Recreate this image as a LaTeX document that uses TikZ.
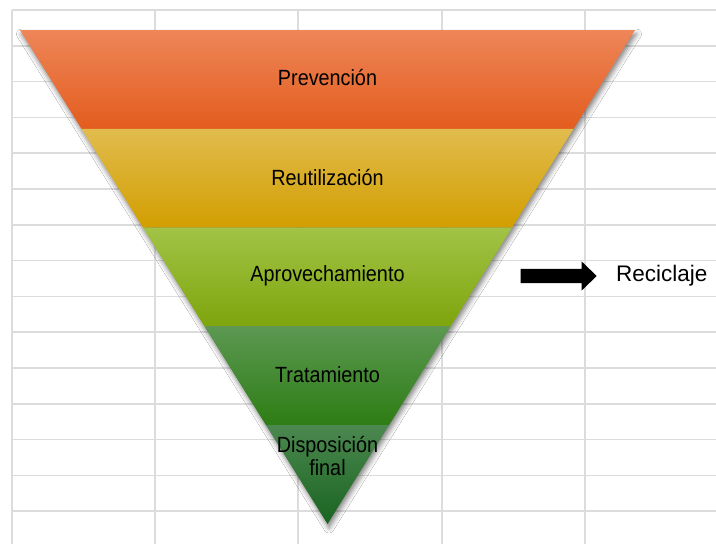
\documentclass[tikz,border=0pt]{standalone}
\usepackage{fontspec}
\setmainfont{Liberation Sans}
\newfontfamily\bandfont{Liberation Sans}[FakeStretch=0.9]
\usetikzlibrary{positioning,shapes.arrows,shadows.blur}

\definecolor{gridgray}{RGB}{220,220,220}
\definecolor{prevtop}{RGB}{238,134,88}
\definecolor{prevbot}{RGB}{227,92,30}
\definecolor{reuttop}{RGB}{225,188,78}
\definecolor{reutbot}{RGB}{210,158,0}
\definecolor{aprotop}{RGB}{162,195,70}
\definecolor{aprobot}{RGB}{125,165,12}
\definecolor{trattop}{RGB}{92,152,82}
\definecolor{tratbot}{RGB}{45,125,20}
\definecolor{disptop}{RGB}{76,136,80}
\definecolor{dispbot}{RGB}{25,100,32}

\tikzset{
  gridline/.style={draw=gridgray, line width=1.6pt},
  bandlabel/.style={font=\bandfont\fontsize{22}{23.5}\selectfont, align=center, inner sep=0pt},
}

\begin{document}
\begin{tikzpicture}[x=1pt, y=-1pt]

        \useasboundingbox (0,0) rectangle (716,544);
        \fill[white] (0,0) rectangle (716,544);

        % Spreadsheet grid behind the diagram
        \foreach \gx in {12,155,298,442,585}
          \draw[gridline] (\gx,10) -- (\gx,544);
        \foreach \gy in {10,45.8,81.6,117.4,153.2,189,224.8,260.6,296.4,332.2,368,403.8,439.6,475.4,511.2}
          \draw[gridline] (12,\gy) -- (716,\gy);

        % Shadow of the inverted triangle
        \path[blur shadow={shadow xshift=1.5pt, shadow yshift=-4pt, shadow blur radius=5pt, shadow opacity=50}]
          (20,30) -- (635,30) -- (327.5,524) -- cycle;

        % The five bands, top to bottom
        \shade[top color=prevtop, bottom color=prevbot] (20,30) -- (635,30) -- (573.5,128.8) -- (81.5,128.8) -- cycle;
        \shade[top color=reuttop, bottom color=reutbot] (81.5,128.8) -- (573.5,128.8) -- (512,227.6) -- (143,227.6) -- cycle;
        \shade[top color=aprotop, bottom color=aprobot] (143,227.6) -- (512,227.6) -- (450.5,326.4) -- (204.5,326.4) -- cycle;
        \shade[top color=trattop, bottom color=tratbot] (204.5,326.4) -- (450.5,326.4) -- (389,425.2) -- (266,425.2) -- cycle;
        \shade[top color=disptop, bottom color=dispbot] (266,425.2) -- (389,425.2) -- (327.5,524) -- cycle;

        % Labels of the bands
        \node[bandlabel] (prevencion) at (327.5,78) {Prevención};
        \node[bandlabel] (reutilizacion) at (327.5,178) {Reutilización};
        \node[bandlabel] (aprovechamiento) at (327.5,276) {Aprovechamiento};
        \node[bandlabel] (tratamiento) at (327.5,375) {Tratamiento};
        \node[bandlabel] (disposicion) at (327.5,456) {Disposición\\final};

        % Arrow to the side note
        \node[single arrow, fill=black, inner sep=7pt, minimum height=76pt,
              single arrow head extend=7.5pt, single arrow tip angle=88] (arrow) at (555,276) {};
        \node[font=\fontsize{22.5}{25}\selectfont, inner sep=0pt, right=19pt of arrow] (reciclaje) {Reciclaje};

\end{tikzpicture}
\end{document}
